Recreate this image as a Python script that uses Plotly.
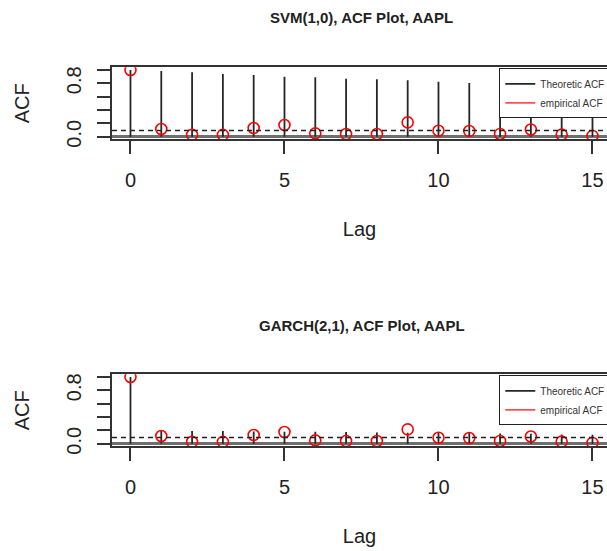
import plotly.graph_objects as go

# ---------------- data ----------------
lags = list(range(16))
svm_theoretic = [1.0, 0.985, 0.965, 0.94, 0.925, 0.90, 0.89, 0.87, 0.86, 0.845,
                 0.825, 0.805, 0.785, 0.765, 0.745, 0.725]
garch_theoretic = [1.0, 0.20, 0.19, 0.19, 0.185, 0.18, 0.18, 0.175, 0.17, 0.165,
                   0.165, 0.16, 0.155, 0.15, 0.14, 0.135]
empirical_acf = [1.0, 0.115, 0.028, 0.028, 0.13, 0.175, 0.05, 0.04, 0.04, 0.215,
                 0.09, 0.085, 0.042, 0.108, 0.032, 0.012]
conf_band = 0.093
x_ticks = [0, 5, 10, 15]
y_ticks = [0.0, 0.2, 0.4, 0.6, 0.8, 1.0]
y_ticktext = ["0.0", "", "", "", "0.8", ""]
titles = ["SVM(1,0), ACF Plot, AAPL", "GARCH(2,1), ACF Plot, AAPL"]
legend_names = ["Theoretic ACF", "empirical ACF"]

FONT = "Liberation Sans, Arial, Helvetica, sans-serif"
W, H = 607, 551
ML = 112
PX_PER_LAG = 30.8
x_range = [-0.6, -0.6 + (W - ML) / PX_PER_LAG]

# plot regions (pixel top/bottom) for the two panels
panels = [
    dict(top=67.3, bottom=139.4, theo=svm_theoretic, title=titles[0], title_y=17),
    dict(top=374.3, bottom=446.4, theo=garch_theoretic, title=titles[1], title_y=325),
]

fig = go.Figure()
layout = dict(
    width=W, height=H,
    margin=dict(l=ML, r=0, t=0, b=0, autoexpand=False),
    paper_bgcolor="white", plot_bgcolor="white",
    font=dict(family=FONT, size=20, color="#222"),
    showlegend=True,
    annotations=[], shapes=[],
)

for i, p in enumerate(panels):
    k = "" if i == 0 else str(i + 1)
    xa, ya = "x" + k, "y" + k
    leg = "legend" + k

    # stems (theoretic ACF)
    sx, sy = [], []
    for lag, v in zip(lags, p["theo"]):
        sx += [lag, lag, None]
        sy += [0, v, None]
    fig.add_trace(go.Scatter(x=sx, y=sy, mode="lines", xaxis=xa, yaxis=ya,
                             line=dict(color="#262626", width=1.8),
                             name=legend_names[0], legend=leg, hoverinfo="skip"))
    # empirical circles
    fig.add_trace(go.Scatter(x=lags, y=empirical_acf, mode="markers", xaxis=xa, yaxis=ya,
                             marker=dict(symbol="circle-open", size=11, color="#ff0000",
                                         line=dict(width=1.6, color="#ff0000")),
                             showlegend=False, legend=leg))
    # legend entry for empirical (line sample)
    fig.add_trace(go.Scatter(x=[None], y=[None], mode="lines", xaxis=xa, yaxis=ya,
                             line=dict(color="#ff5050", width=1.8),
                             name=legend_names[1], legend=leg))

    d0 = 1 - p["bottom"] / H
    d1 = 1 - p["top"] / H
    layout["xaxis" + k] = dict(
        domain=[0, 1], range=x_range, anchor=ya,
        tickvals=x_ticks, ticks="outside", ticklen=13, tickwidth=1.5, tickcolor="#333",
        showline=True, linecolor="#333", linewidth=1.6, mirror=True,
        showgrid=False, zeroline=False, ticklabelstandoff=9,
        tickfont=dict(size=20, color="#222"),
        title=dict(text="Lag", standoff=32, font=dict(size=20, color="#222")),
    )
    layout["yaxis" + k] = dict(
        domain=[d0, d1], range=[-0.04, 1.04], anchor=xa,
        tickvals=y_ticks, ticktext=y_ticktext, tickangle=-90,
        ticks="outside", ticklen=13, tickwidth=1.5, tickcolor="#333",
        showline=True, linecolor="#333", linewidth=1.6, mirror=False,
        showgrid=False, zeroline=True, zerolinecolor="#6e6e6e", zerolinewidth=2.5,
        ticklabelstandoff=8,
        tickfont=dict(size=20, color="#222"),
        title=dict(text="ACF", standoff=28, font=dict(size=20, color="#222")),
    )
    layout[leg] = dict(
        x=(499.3 - ML) / (W - ML), y=1 - (p["top"] + 1) / H,
        xanchor="left", yanchor="top",
        bgcolor="white", bordercolor="#222", borderwidth=1,
        font=dict(size=10, color="#333", family=FONT),
        itemwidth=30, tracegroupgap=0,
    )
    # dashed significance line
    layout["shapes"].append(dict(type="line", xref=xa + " domain", yref=ya,
                                 x0=0, x1=1, y0=conf_band, y1=conf_band,
                                 line=dict(color="#222", width=1.6, dash="5px,4px")))
    # panel title
    layout["annotations"].append(dict(text="<b>" + p["title"] + "</b>", xref="paper", yref="paper",
                                      x=(361.5 - ML) / (W - ML), y=1 - p["title_y"] / H,
                                      xanchor="center", yanchor="middle", showarrow=False,
                                      font=dict(size=15, color="#222", family=FONT)))

fig.update_layout(**layout)
fig.write_html("out.html")
